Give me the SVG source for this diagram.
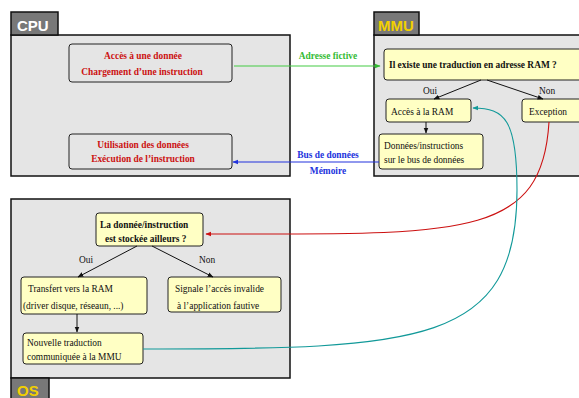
<svg xmlns="http://www.w3.org/2000/svg" width="579" height="398" viewBox="0 0 579 398">
<style>
.panel{fill:#e5e5e5;stroke:#111;stroke-width:1.5}
.tab{fill:#787878;stroke:#111;stroke-width:1.5}
.tabt{font-family:"Liberation Sans",Arial,sans-serif;font-weight:bold;font-size:15px}
.gbox{fill:#e5e5e5;stroke:#222;stroke-width:1}
.ybox{fill:#ffffc4;stroke:#222;stroke-width:1}
.t{font-family:"Liberation Serif","Times New Roman",serif;font-size:9.4px;fill:#111}
.b{font-weight:bold}
.red{fill:#cc1111}
.edge{fill:none;stroke:#111;stroke-width:1}
</style>
<defs>
<marker id="ak" viewBox="0 0 10 10" refX="9" refY="5" markerWidth="6" markerHeight="6" orient="auto" markerUnits="userSpaceOnUse"><path d="M0,1 L10,5 L0,9 z" fill="#111"/></marker>
<marker id="ag" viewBox="0 0 10 10" refX="9" refY="5" markerWidth="6" markerHeight="6" orient="auto" markerUnits="userSpaceOnUse"><path d="M0,1 L10,5 L0,9 z" fill="#33bb33"/></marker>
<marker id="ab" viewBox="0 0 10 10" refX="9" refY="5" markerWidth="6" markerHeight="6" orient="auto" markerUnits="userSpaceOnUse"><path d="M0,1 L10,5 L0,9 z" fill="#2233dd"/></marker>
<marker id="ar" viewBox="0 0 10 10" refX="9" refY="5" markerWidth="6" markerHeight="6" orient="auto" markerUnits="userSpaceOnUse"><path d="M0,1 L10,5 L0,9 z" fill="#cc1111"/></marker>
<marker id="at" viewBox="0 0 10 10" refX="9" refY="5" markerWidth="6" markerHeight="6" orient="auto" markerUnits="userSpaceOnUse"><path d="M0,1 L10,5 L0,9 z" fill="#119999"/></marker>
</defs>
<rect width="579" height="398" fill="#fff"/>

<g id="cpu">
<rect class="panel" x="11" y="35" width="279" height="141"/>
<rect class="tab" x="11" y="12" width="47" height="23"/>
<text class="tabt" x="17" y="31" fill="#fff">CPU</text>
</g>
<g id="mmu">
<rect class="panel" x="374" y="35" width="220" height="141"/>
<rect class="tab" x="374" y="12" width="45" height="23"/>
<text class="tabt" x="378" y="31" fill="#f2d000">MMU</text>
</g>
<g id="os">
<rect class="panel" x="11" y="199" width="279" height="179"/>
<rect class="tab" x="11" y="378" width="38" height="25"/>
<text class="tabt" x="17" y="396" fill="#f2d000">OS</text>
</g>

<g id="cpu-acces">
<rect class="gbox" x="69" y="44" width="163" height="38" rx="3"/>
<text class="t b red" x="143" y="59" text-anchor="middle">Accès à une donnée</text>
<text class="t b red" x="142" y="75" text-anchor="middle">Chargement d’une instruction</text>
</g>
<g id="cpu-utilisation">
<rect class="gbox" x="69" y="134" width="163" height="35" rx="3"/>
<text class="t b red" x="143" y="148" text-anchor="middle">Utilisation des données</text>
<text class="t b red" x="143" y="162" text-anchor="middle">Exécution de l’instruction</text>
</g>

<g id="mmu-question">
<rect class="ybox" x="384" y="49" width="210" height="31" rx="3"/>
<text class="t b" x="389" y="68">Il existe une traduction en adresse RAM ?</text>
</g>
<g id="mmu-acces">
<rect class="ybox" x="386" y="99" width="85" height="23" rx="3"/>
<text class="t" x="391" y="115">Accès à la RAM</text>
</g>
<g id="mmu-exception">
<rect class="ybox" x="522" y="99" width="72" height="23" rx="3"/>
<text class="t" x="529" y="115">Exception</text>
</g>
<g id="mmu-donnees">
<rect class="ybox" x="379" y="134" width="104" height="35" rx="3"/>
<text class="t" x="384" y="149">Données/instructions</text>
<text class="t" x="384" y="163">sur le bus de données</text>
</g>

<g id="os-question">
<rect class="ybox" x="96" y="213" width="107" height="33" rx="3"/>
<text class="t b" x="100" y="228">La donnée/instruction</text>
<text class="t b" x="105" y="242">est stockée ailleurs ?</text>
</g>
<g id="os-transfert">
<rect class="ybox" x="21" y="277" width="126" height="37" rx="3"/>
<text class="t" x="28" y="292">Transfert vers la RAM</text>
<text class="t" x="23" y="309">(driver disque, réseaun, ...)</text>
</g>
<g id="os-signale">
<rect class="ybox" x="168" y="277" width="113" height="35" rx="3"/>
<text class="t" x="175" y="292">Signale l’accès invalide</text>
<text class="t" x="177" y="309">à l’application fautive</text>
</g>
<g id="os-nouvelle">
<rect class="ybox" x="23" y="333" width="120" height="31" rx="3"/>
<text class="t" x="27" y="346">Nouvelle traduction</text>
<text class="t" x="27" y="360">communiquée à la MMU</text>
</g>

<g id="connectors">
<path class="edge" d="M481,80 L434,99" marker-end="url(#ak)"/>
<path class="edge" d="M487,80 L543,99" marker-end="url(#ak)"/>
<text class="t" x="430" y="94" text-anchor="middle">Oui</text>
<text class="t" x="547" y="94" text-anchor="middle">Non</text>
<path class="edge" d="M426,122 L426,133" marker-end="url(#ak)"/>

<path class="edge" d="M137,246 L78,277" marker-end="url(#ak)"/>
<path class="edge" d="M152,246 L213,277" marker-end="url(#ak)"/>
<text class="t" x="86" y="263" text-anchor="middle">Oui</text>
<text class="t" x="207" y="263" text-anchor="middle">Non</text>
<path class="edge" d="M77,314 L77,332" marker-end="url(#ak)"/>

<path d="M234,66 L380,66" fill="none" stroke="#44cc44" stroke-width="1.2" marker-end="url(#ag)"/>
<text class="t b" x="328" y="59" text-anchor="middle" style="fill:#33bb33">Adresse fictive</text>
<path d="M379,162 L233,162" fill="none" stroke="#2233dd" stroke-width="1.2" marker-end="url(#ab)"/>
<text class="t b" x="328" y="158" text-anchor="middle" style="fill:#2233dd">Bus de données</text>
<text class="t b" x="328" y="174" text-anchor="middle" style="fill:#2233dd">Mémoire</text>

<path d="M549,122 C542,240 460,234 206,234" fill="none" stroke="#cc1111" stroke-width="1.1" marker-end="url(#ar)"/>
<path d="M143,349 C420,349 517,345 517,190 C517,120 505,108 473,108" fill="none" stroke="#119999" stroke-width="1.1" marker-end="url(#at)"/>
</g>
</svg>
